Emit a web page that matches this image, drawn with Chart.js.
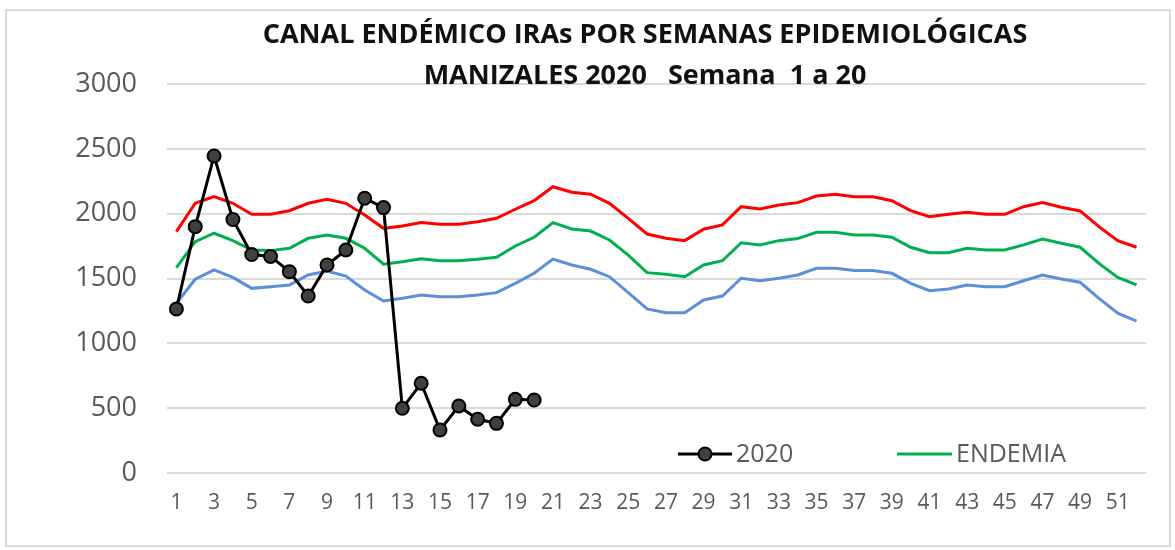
<!DOCTYPE html>
<html>
<head>
<meta charset="utf-8">
<script src="https://cdn.jsdelivr.net/npm/chart.js@4"></script>
<style>
  html, body { margin: 0; padding: 0; background: #fff; }
  #wrap { width: 1175px; height: 550px; }
</style>
</head>
<body>
<div id="wrap"><canvas id="chart" width="1175" height="550"></canvas></div>
<script>
// weeks 1..52
const semanas = [];
for (let i = 1; i <= 52; i++) semanas.push(String(i));

const casos2020 = [1265, 1900, 2445, 1955, 1685, 1670, 1553, 1365, 1604, 1720,
  2119, 2047, 499, 692, 332, 517, 414, 383, 568, 563];

const zonaAlerta = [1861, 2080, 2131, 2080, 1995, 1995, 2023, 2080, 2111, 2080,
  1990, 1887, 1905, 1931, 1918, 1918, 1938, 1964, 2034, 2100,
  2208, 2165, 2150, 2080, 1964, 1843, 1810, 1792, 1880, 1913,
  2054, 2036, 2067, 2085, 2136, 2150, 2131, 2131, 2100, 2023,
  1977, 1995, 2011, 1995, 1995, 2054, 2085, 2049, 2021, 1900,
  1792, 1741];

const endemia = [1583, 1784, 1849, 1792, 1720, 1715, 1733, 1810, 1836, 1810,
  1733, 1610, 1630, 1652, 1636, 1636, 1648, 1664, 1751, 1818,
  1931, 1882, 1866, 1797, 1681, 1545, 1532, 1514, 1604, 1637,
  1776, 1759, 1792, 1808, 1857, 1857, 1836, 1836, 1818, 1741,
  1699, 1699, 1733, 1720, 1720, 1759, 1805, 1772, 1741, 1617,
  1509, 1450];

const zonaSeguridad = [1309, 1494, 1566, 1509, 1424, 1437, 1450, 1527, 1558, 1519,
  1411, 1327, 1347, 1373, 1360, 1360, 1373, 1391, 1463, 1540,
  1650, 1604, 1571, 1514, 1391, 1265, 1236, 1236, 1334, 1365,
  1502, 1483, 1502, 1527, 1579, 1579, 1561, 1561, 1540, 1463,
  1406, 1419, 1450, 1437, 1437, 1483, 1527, 1496, 1471, 1347,
  1232, 1172];

const yTicks = [0, 500, 1000, 1500, 2000, 2500, 3000];

const titulo = ["CANAL ENDÉMICO IRAs POR SEMANAS EPIDEMIOLÓGICAS", "MANIZALES 2020   Semana  1 a 20"];

const gris = "#595959";
const font = "'Open Sans', 'Noto Sans', sans-serif";

// frame, title and the two-item legend drawn inside the plot
const extras = {
  id: "extras",
  afterDraw(chart) {
    const ctx = chart.ctx;
    const a = chart.chartArea;
    ctx.save();
    ctx.strokeStyle = "#d9d9d9";
    ctx.lineWidth = 2;
    ctx.strokeRect(6, 10, 1164, 536);

    ctx.fillStyle = "#111";
    ctx.font = "bold 27px " + font;
    ctx.textAlign = "center";
    ctx.textBaseline = "middle";
    ctx.fillText(titulo[0], 645, 35);
    ctx.fillText(titulo[1], 645, 76);

    // legend
    const ly = a.bottom - 19;
    ctx.lineWidth = 3;
    ctx.strokeStyle = "#000";
    ctx.beginPath();
    ctx.moveTo(678, ly);
    ctx.lineTo(732, ly);
    ctx.stroke();
    ctx.beginPath();
    ctx.arc(705, ly, 6.5, 0, Math.PI * 2);
    ctx.fillStyle = "#404040";
    ctx.fill();
    ctx.lineWidth = 2;
    ctx.stroke();
    ctx.strokeStyle = "#00b050";
    ctx.lineWidth = 3;
    ctx.beginPath();
    ctx.moveTo(897, ly);
    ctx.lineTo(952, ly);
    ctx.stroke();
    ctx.fillStyle = gris;
    ctx.font = "25px " + font;
    ctx.textAlign = "left";
    ctx.fillText("2020", 736, ly + 1);
    ctx.fillText("ENDEMIA", 956, ly + 1);
    ctx.restore();
  }
};

new Chart(document.getElementById("chart"), {
  type: "line",
  data: {
    labels: semanas,
    datasets: [
      {
        label: "2020",
        data: casos2020,
        borderColor: "#000",
        borderWidth: 3,
        pointRadius: 6.5,
        pointBorderWidth: 2,
        pointBackgroundColor: "#404040",
        pointBorderColor: "#000",
        tension: 0
      },
      {
        label: "ALERTA",
        data: zonaAlerta,
        borderColor: "#ff0000",
        borderWidth: 3,
        pointRadius: 0,
        tension: 0
      },
      {
        label: "ENDEMIA",
        data: endemia,
        borderColor: "#00b050",
        borderWidth: 3,
        pointRadius: 0,
        tension: 0
      },
      {
        label: "SEGURIDAD",
        data: zonaSeguridad,
        borderColor: "#5b8fd8",
        borderWidth: 3,
        pointRadius: 0,
        tension: 0
      }
    ]
  },
  options: {
    responsive: false,
    animation: false,
    layout: { padding: { top: 84, right: 29, bottom: 27, left: 0 } },
    plugins: {
      legend: { display: false },
      title: { display: false },
      tooltip: { enabled: false }
    },
    scales: {
      x: {
        offset: true,
        grid: { display: false, drawTicks: false },
        border: { display: false },
        afterFit(scale) { scale.height = 50; },
        ticks: {
          autoSkip: false,
          maxRotation: 0,
          padding: 17,
          color: gris,
          font: { family: font, size: 21 },
          callback(v, i) { return i % 2 === 0 ? semanas[i] : ""; }
        }
      },
      y: {
        min: 0,
        max: 3000,
        afterFit(scale) { scale.width = 167; },
        afterBuildTicks(scale) { scale.ticks = yTicks.map(v => ({ value: v })); },
        grid: { color: "#d9d9d9", lineWidth: 2, drawTicks: false },
        border: { display: false },
        ticks: {
          padding: 30,
          color: gris,
          font: { family: font, size: 27 },
          callback(v) { return String(v); }
        }
      }
    }
  },
  plugins: [extras]
});
</script>
</body>
</html>
